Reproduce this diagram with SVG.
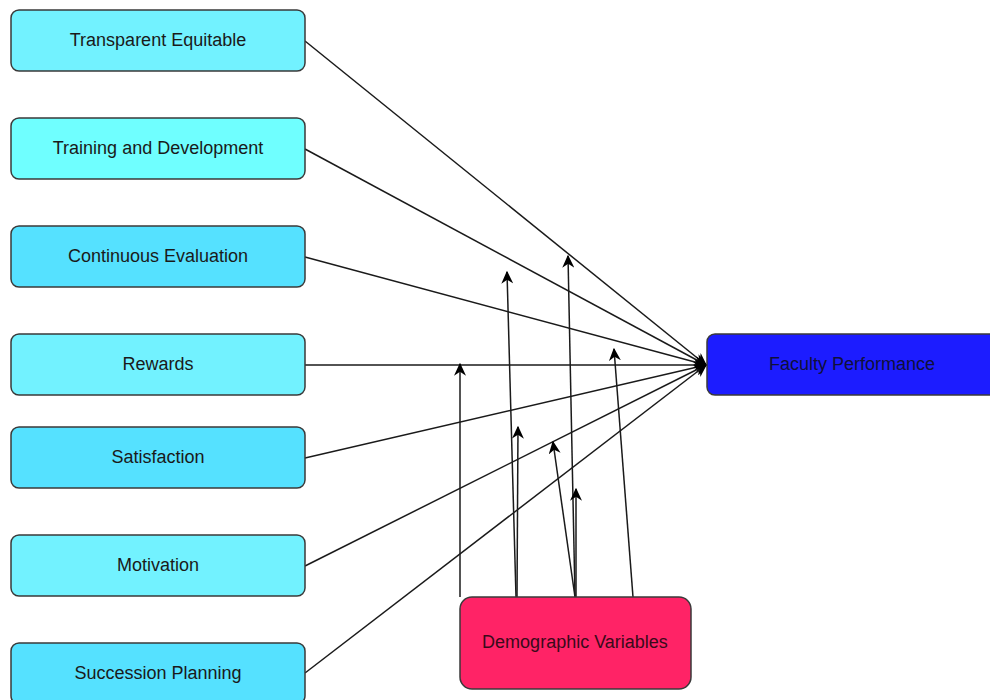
<svg xmlns="http://www.w3.org/2000/svg" width="990" height="700" viewBox="0 0 990 700">
<style>
.box{stroke:#3a3a3a;stroke-width:1.5}
.lbl{font-family:"Liberation Sans",Arial,sans-serif;font-size:18px;fill:#1a1a1a;text-anchor:middle;dominant-baseline:central}
.c1{fill:#72F2FF}.c2{fill:#6FFFFF}.c3{fill:#55E1FF}
.ln{stroke:#1a1a1a;stroke-width:1.5;fill:none;marker-end:url(#ah)}
</style>
<defs>
<marker id="ah" viewBox="0 0 10 10" refX="9" refY="5" markerWidth="13" markerHeight="12" preserveAspectRatio="none" markerUnits="userSpaceOnUse" orient="auto">
<path d="M0,0 L10,5 L0,10 L3,5 z" fill="#000"/>
</marker>
</defs>
<rect width="990" height="700" fill="#fff"/>
<g id="connectors">
<line class="ln" x1="305" y1="41" x2="706" y2="365"/>
<line class="ln" x1="305" y1="149" x2="706" y2="365"/>
<line class="ln" x1="305" y1="257" x2="706" y2="365"/>
<line class="ln" x1="305" y1="365" x2="706" y2="365"/>
<line class="ln" x1="305" y1="458" x2="706" y2="365"/>
<line class="ln" x1="305" y1="566" x2="706" y2="365"/>
<line class="ln" x1="305" y1="673" x2="706" y2="365"/>
<line class="ln" x1="460" y1="597" x2="460" y2="364"/>
<line class="ln" x1="516" y1="597" x2="507" y2="272"/>
<line class="ln" x1="517" y1="597" x2="518" y2="427"/>
<line class="ln" x1="575" y1="597" x2="568" y2="256"/>
<line class="ln" x1="575" y1="597" x2="553" y2="442"/>
<line class="ln" x1="576" y1="597" x2="576" y2="489"/>
<line class="ln" x1="633" y1="597" x2="614" y2="349"/>
</g>
<g id="n1"><rect class="box c1" x="11" y="10" width="294" height="61" rx="8"/><text class="lbl" x="158" y="40">Transparent Equitable</text></g>
<g id="n2"><rect class="box c2" x="11" y="118" width="294" height="61" rx="8"/><text class="lbl" x="158" y="148">Training and Development</text></g>
<g id="n3"><rect class="box c3" x="11" y="226" width="294" height="61" rx="8"/><text class="lbl" x="158" y="256">Continuous Evaluation</text></g>
<g id="n4"><rect class="box c1" x="11" y="334" width="294" height="61" rx="8"/><text class="lbl" x="158" y="364">Rewards</text></g>
<g id="n5"><rect class="box c3" x="11" y="427" width="294" height="61" rx="8"/><text class="lbl" x="158" y="457">Satisfaction</text></g>
<g id="n6"><rect class="box c1" x="11" y="535" width="294" height="61" rx="8"/><text class="lbl" x="158" y="565">Motivation</text></g>
<g id="n7"><rect class="box c3" x="11" y="643" width="294" height="61" rx="8"/><text class="lbl" x="158" y="673">Succession Planning</text></g>
<g id="faculty"><rect class="box" fill="#1C1CFF" x="707" y="334" width="300" height="61" rx="8"/><text class="lbl" x="852" y="364" style="fill:#10103a">Faculty Performance</text></g>
<g id="demographic"><rect class="box" fill="#FF2366" x="460" y="597" width="231" height="92" rx="12"/><text class="lbl" x="575" y="642" style="fill:#3a0a1a">Demographic Variables</text></g>
</svg>
